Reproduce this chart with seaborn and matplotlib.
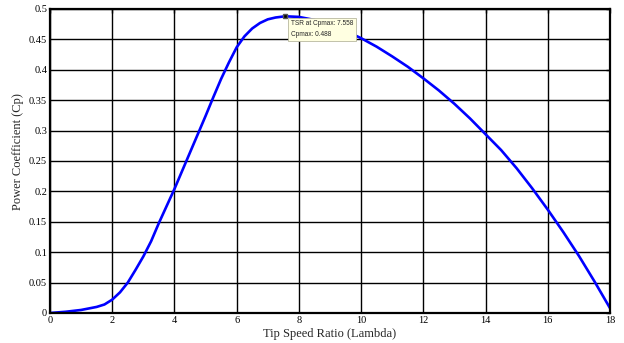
import numpy as np
import matplotlib
matplotlib.use("Agg")
import matplotlib.pyplot as plt
import seaborn as sns

# curve
tsr = [0, 0.5, 1.0, 1.5, 1.75, 2.0, 2.25, 2.5, 2.75, 3.0, 3.25, 3.5, 3.75,
       4.0, 4.25, 4.5, 4.75, 5.0, 5.25, 5.5, 5.75, 6.0, 6.25, 6.5, 6.75,
       7.0, 7.25, 7.558, 8.0, 8.5, 9.0, 9.5, 10.0, 10.5, 11.0, 11.5, 12.0,
       12.5, 13.0, 13.5, 14.0, 14.5, 15.0, 15.5, 16.0, 16.5, 17.0, 17.5, 18.0]
cp = [0, 0.002, 0.005, 0.010, 0.014, 0.022, 0.034, 0.050, 0.071, 0.093,
      0.118, 0.148, 0.176, 0.204, 0.234, 0.264, 0.294, 0.324, 0.355, 0.385,
      0.412, 0.437, 0.455, 0.468, 0.477, 0.483, 0.486, 0.488, 0.487, 0.482,
      0.474, 0.464, 0.452, 0.438, 0.422, 0.405, 0.386, 0.366, 0.344, 0.320,
      0.294, 0.268, 0.238, 0.205, 0.170, 0.133, 0.094, 0.052, 0.008]
peak_tsr = 7.558
peak_cp = 0.488
x_ticks = list(range(0, 19, 2))
y_ticks = [0, 0.05, 0.1, 0.15, 0.2, 0.25, 0.3, 0.35, 0.4, 0.45, 0.5]

sns.set_style("white")
plt.rcParams['font.family'] = ['Liberation Serif', 'DejaVu Serif']

fig = plt.figure(figsize=(6.24, 3.43), dpi=100)
ax = fig.add_axes([50 / 624, 1 - 313 / 343, 560 / 624, 304 / 343])

sns.lineplot(x=tsr, y=cp, ax=ax, color='#0000ff', linewidth=1.9, sort=True)

# datatip marker and box
ax.plot([peak_tsr], [peak_cp], marker='s', color='black', markersize=3.5,
        markeredgecolor='#555555', zorder=5)
ax.annotate(f"TSR at Cpmax: {peak_tsr}\nCpmax: {peak_cp}",
            xy=(peak_tsr, peak_cp), xytext=(4, -3), textcoords='offset points',
            ha='left', va='top', fontsize=4.7, family='Liberation Sans',
            linespacing=1.7,
            bbox=dict(boxstyle='square,pad=0.4', fc='#ffffe1', ec='#b8b8a0', lw=0.6),
            zorder=6)

ax.set_xlim(0, 18)
ax.set_ylim(0, 0.5)
ax.set_xticks(x_ticks)
ax.set_yticks(y_ticks)
ax.set_xticklabels([str(t) for t in x_ticks])
ax.set_yticklabels([f"{t:g}" for t in y_ticks])
ax.grid(True, color='black', linewidth=1.0)
ax.set_axisbelow(True)
ax.tick_params(direction='in', length=3, width=1, labelsize=7.5, pad=2,
               top=True, right=True, colors='black')
for s in ax.spines.values():
    s.set_visible(True)
    s.set_color('black')
    s.set_linewidth(1.6)

ax.set_xlabel('Tip Speed Ratio (Lambda)', fontsize=9, labelpad=2)
ax.set_ylabel('Power Coefficient (Cp)', fontsize=9)
ax.yaxis.set_label_coords(-0.047, 0.53)

fig.savefig('out.png', dpi=100)
